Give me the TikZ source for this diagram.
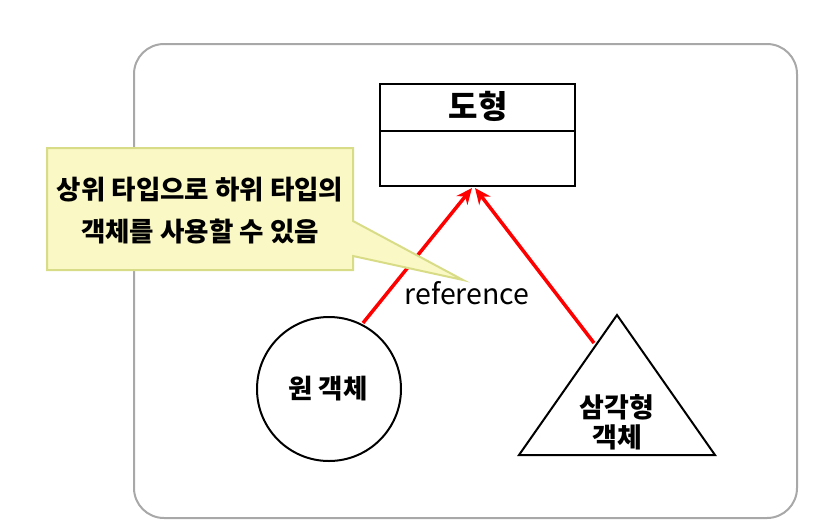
\documentclass[tikz,border=0pt]{standalone}
\usepackage{fontspec}
\setmainfont{Noto Sans CJK KR}
\usetikzlibrary{arrows.meta}
\definecolor{calloutfill}{HTML}{FAF8C4}
\definecolor{calloutdraw}{HTML}{D9DC86}
\definecolor{framegray}{HTML}{A8A8A8}
\tikzset{
  refarrow/.style={draw=red, line width=3.5pt, -{Stealth[length=16pt,width=14pt]}},
  shapeline/.style={draw=black, line width=2pt},
  lbl/.style={inner sep=0pt, align=center},
}
\begin{document}
\begin{tikzpicture}[x=1pt,y=-1pt]
\useasboundingbox (0,0) rectangle (835,531);
% outer frame
\draw[framegray, line width=2pt, rounded corners=30pt] (134,44) rectangle (797,518);
% class box
\draw[shapeline] (380,84) rectangle (575,186);
\draw[shapeline] (380,131) -- (575,131);
\node[lbl, font=\bfseries\fontsize{32}{36}\selectfont] (title) at (478,106) {도형};
% circle
\node[shapeline, circle, minimum size=144pt, inner sep=0pt] (circ) at (329,389) {};
\node[lbl, font=\bfseries\fontsize{26.5}{30}\selectfont] (circtext) at (328,389) {원 객체};
% triangle
\coordinate (tA) at (617,315);
\coordinate (tB) at (519,455);
\coordinate (tC) at (715,455);
\draw[shapeline, line join=miter] (tA) -- (tB) -- (tC) -- cycle;
\node[lbl, font=\bfseries\fontsize{27}{30}\selectfont] (tritext) at (617,422) {삼각형\\객체};
% arrows
\coordinate (c1) at (363,323);
\coordinate (c2) at (594,343);
\coordinate (h1) at (472,188);
\coordinate (h2) at (475,188);
\draw[refarrow] (c1) -- (h1);
\draw[refarrow] (c2) -- (h2);
\node[inner sep=0pt, font=\fontsize{28.5}{32}\selectfont] (reflbl) at (467,293) {reference};
% callout
\draw[calloutdraw, fill=calloutfill, line width=2pt, line join=miter]
  (47,148) -- (353,148) -- (353,221) -- (463,280) -- (353,256) -- (353,270) -- (47,270) -- cycle;
\node[lbl, font=\bfseries\fontsize{26.5}{42}\selectfont] (callouttext) at (200,211) {상위 타입으로 하위 타입의\\객체를 사용할 수 있음};
\end{tikzpicture}
\end{document}
